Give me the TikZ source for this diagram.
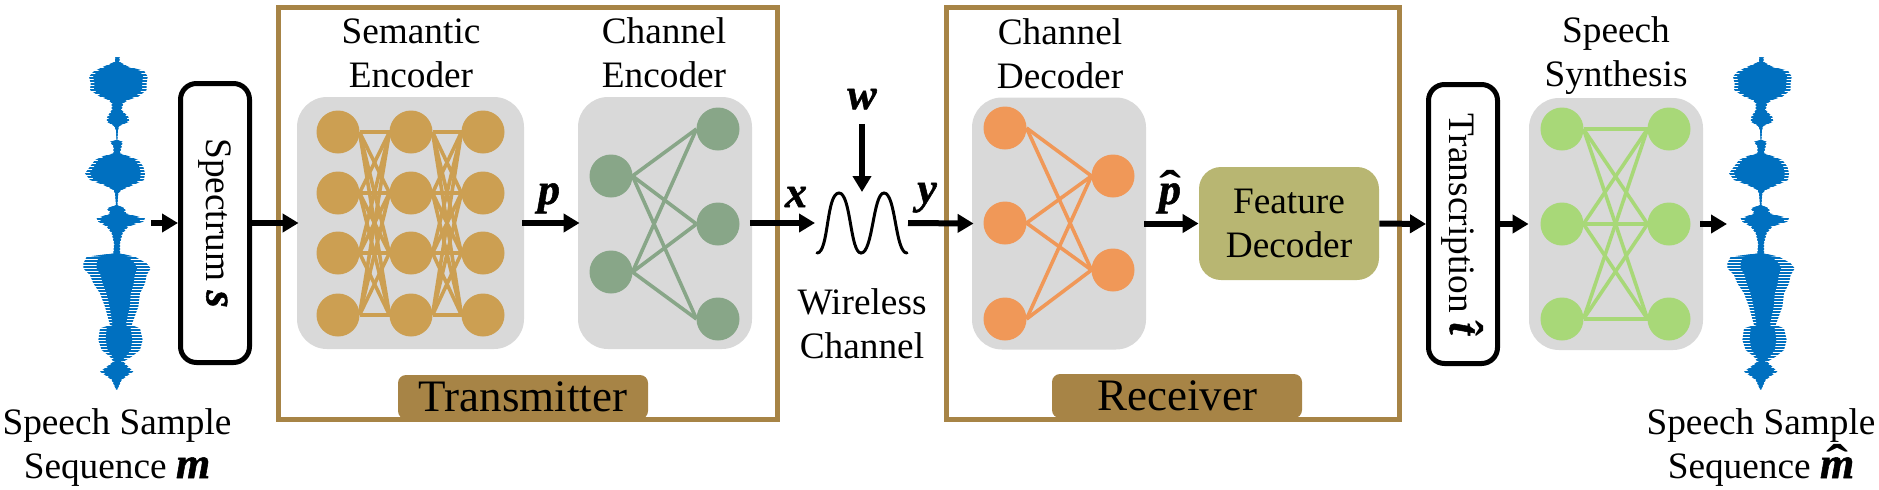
\documentclass[tikz,border=0pt]{standalone}
\usepackage{amsmath}
\usepackage{graphicx}
\usepackage{fontspec}
\setmainfont{Liberation Serif}
\newfontfamily\bifam[Scale=1.18,BoldItalicFeatures={FakeBold=1.2}]{Liberation Serif}
\usetikzlibrary{arrows.meta}
\definecolor{frame}{HTML}{A78446}
\definecolor{panel}{HTML}{D9D9D9}
\definecolor{semc}{HTML}{CC9F52}
\definecolor{chec}{HTML}{88A688}
\definecolor{chdc}{HTML}{F09858}
\definecolor{synth}{HTML}{A8D878}
\definecolor{featc}{HTML}{B8B672}
\definecolor{wave}{HTML}{0070C0}
\newcommand{\bisym}[1]{{\bifam\bfseries\itshape #1}}
\newsavebox{\hatbx}
\newcommand{\bihat}[2][1.5]{\sbox{\hatbx}{\bisym{#2}}\hbox{\rlap{\hbox to\wd\hatbx{\hss\scalebox{#1}[1.1]{{\bifam\bfseries\char"02C6}}\hss}}\usebox{\hatbx}}}
\newcommand{\wavepath}{(345,172)--(360,172)--(358,185)--(385,200)--(432,212)--(443,230)--(440,250)--(440,270)--(415,290)--(385,300)--(370,310)--(365,330)--(385,350)--(388,365)--(358,378)--(354,390)--(352,420)--(368,425)--(365,440)--(360,460)--(385,468)--(415,480)--(430,500)--(435,520)--(432,540)--(400,555)--(365,570)--(355,580)--(352,615)--(375,625)--(378,640)--(435,655)--(430,665)--(385,680)--(368,700)--(360,730)--(360,760)--(405,770)--(440,790)--(452,805)--(440,825)--(435,850)--(420,880)--(415,920)--(395,975)--(420,985)--(428,1020)--(420,1050)--(395,1070)--(370,1085)--(400,1115)--(385,1125)--(365,1140)--(352,1168)--(348,1168)--(335,1140)--(315,1125)--(300,1115)--(340,1085)--(330,1070)--(305,1050)--(295,1020)--(300,985)--(330,975)--(315,920)--(300,880)--(280,850)--(270,825)--(250,805)--(250,790)--(260,770)--(340,760)--(342,730)--(335,700)--(320,680)--(295,665)--(290,655)--(330,640)--(320,625)--(348,615)--(345,580)--(340,570)--(310,555)--(270,540)--(255,520)--(270,500)--(285,480)--(310,468)--(340,460)--(340,440)--(330,425)--(350,420)--(348,390)--(342,378)--(320,365)--(322,350)--(335,330)--(335,310)--(325,300)--(300,290)--(270,270)--(272,250)--(267,230)--(280,215)--(310,200)--(345,185)--cycle}
\newcommand{\waveform}[1]{%
  \begin{scope}[shift={(#1,0)},x=0.16667pt,y=-0.16667pt]
    \begin{scope}
      \clip \wavepath;
      \foreach \yy in {172,181,...,1172}
        \draw[wave,line width=1.1pt] (240,\yy)--(460,\yy);
    \end{scope}
    \begin{scope}[shift={(350,0)},xscale=.6,shift={(-350,0)}]
      \fill[wave] \wavepath;
    \end{scope}
    \begin{scope}
      \clip (240,172) rectangle (460,770) (240,1085) rectangle (460,1170);
      \begin{scope}[shift={(350,0)},xscale=.85,shift={(-350,0)}]
        \fill[wave] \wavepath;
      \end{scope}
    \end{scope}
  \end{scope}}
\tikzset{
  x=0.5pt,y=-0.5pt,
  lbl/.style={font=\fontsize{18.65}{22}\selectfont,align=center,inner sep=0pt,anchor=base},
  sym/.style={font=\fontsize{18.65}{22}\selectfont,inner sep=0pt,anchor=base},
  panelbox/.style={fill=panel,rounded corners=15pt,minimum width=#1,minimum height=126pt,inner sep=0pt},
  frm/.style={draw=frame,line width=2.5pt},
  tag/.style={fill=frame,rounded corners=4pt,minimum width=125pt,minimum height=22pt,inner sep=0pt,font=\fontsize{22.5}{26}\selectfont},
  blockbox/.style={draw=black,fill=white,line width=2.5pt,rounded corners=8pt,minimum width=34.5pt,minimum height=139.5pt,inner sep=0pt},
  neuron/.style={circle,fill=#1,minimum size=21.5pt,inner sep=0pt,outer sep=0pt},
  link/.style={line width=1.8pt,draw=#1},
  flow/.style={line width=3pt,-{Triangle[length=8pt,width=9pt]}},
}
\begin{document}
\begin{tikzpicture}
\useasboundingbox (0,0) rectangle (1879,489);
% frames
\coordinate (f1a) at (278,7.5); \coordinate (f1b) at (777.5,419.5);
\coordinate (f2a) at (946,7.5); \coordinate (f2b) at (1399.5,419.5);
\draw[frm] (f1a) rectangle (f1b);
\draw[frm] (f2a) rectangle (f2b);
\node[tag,anchor=center] (tx) at (523,397) {Transmitter};
\node[tag,anchor=center] (rx) at (1177,396) {Receiver};
% waveforms
\waveform{0}
\waveform{1644}
% panels
\node[panelbox=113.5pt] (sem) at (410.5,223) {};
\node[panelbox=87pt] (che) at (665,223) {};
\node[panelbox=87pt] (chd) at (1059,223.5) {};
\node[panelbox=87pt] (syn) at (1616,224) {};
\node[fill=featc,rounded corners=11pt,minimum width=90pt,minimum height=56.5pt,inner sep=0pt,align=center,font=\fontsize{18.65}{22}\selectfont] (feat) at (1289,223.5) {Feature\\Decoder};
% edges first, then neurons on top
\foreach \c/\x in {a/338,b/411,c/483}
  \foreach \r/\y in {1/132,2/193,3/253,4/315}
    \node[neuron=semc] (s\c\r) at (\x,\y) {};
\foreach \i in {1,2,3,4}
  \foreach \j in {1,2,3,4} {
    \draw[link=semc] (sa\i.east)--(sb\j.west);
    \draw[link=semc] (sb\i.east)--(sc\j.west);
  }
% channel encoder
\foreach \r/\y in {1/176,2/272} \node[neuron=chec] (ea\r) at (611,\y) {};
\foreach \r/\y in {1/129,2/224,3/319} \node[neuron=chec] (eb\r) at (718,\y) {};
\foreach \i in {1,2} \foreach \j in {1,2,3} \draw[link=chec] (ea\i.east)--(eb\j.west);
% channel decoder
\foreach \r/\y in {1/128,2/223,3/319} \node[neuron=chdc] (da\r) at (1005,\y) {};
\foreach \r/\y in {1/176,2/270} \node[neuron=chdc] (db\r) at (1113,\y) {};
\foreach \i in {1,2,3} \foreach \j in {1,2} \draw[link=chdc] (da\i.east)--(db\j.west);
% synthesis
\foreach \r/\y in {1/129,2/224,3/319} {
  \node[neuron=synth] (ya\r) at (1562,\y) {};
  \node[neuron=synth] (yb\r) at (1669,\y) {};
}
\foreach \i in {1,2,3} \foreach \j in {1,2,3} \draw[link=synth] (ya\i.east)--(yb\j.west);
% blocks
\node[blockbox] (spec) at (215,223) {};
\node[rotate=-90,inner sep=0pt,font=\fontsize{18.65}{22}\selectfont] (spect) at (215,223) {Spectrum \bisym{s}};
\node[blockbox] (trans) at (1463,224) {};
\node[rotate=-90,inner sep=0pt,font=\fontsize{18.65}{22}\selectfont] (transt) at (1463,224) {Transcription \bihat[1.1]{t}};
% channel
\coordinate (chin) at (815,223);
\coordinate (chout) at (908,223);
\coordinate (chtop) at (862,192);
\draw[line width=1.5pt,line cap=round] (817,253) .. controls (829,253) and (826,193) .. (839,193)
  .. controls (851,193) and (850,253) .. (861,253)
  .. controls (873,253) and (873,193) .. (884,193)
  .. controls (896,193) and (895,253) .. (907,253);
% labels
\node[lbl] (l1) at (117,478) {Speech Sample\\Sequence \bisym{m}};
\node[lbl] (l2) at (1761,478) {Speech Sample\\Sequence \bihat{m}};
\node[lbl] (l3) at (411,87) {Semantic\\Encoder};
\node[lbl] (l4) at (664,87) {Channel\\Encoder};
\node[lbl] (l5) at (1060,88) {Channel\\Decoder};
\node[lbl] (l6) at (1616,86) {Speech\\Synthesis};
\node[lbl] (l7) at (862,358) {Wireless\\Channel};
\node[sym] (p) at (549,204) {\bisym{p}};
\node[sym] (xx) at (796,207) {\bisym{x}};
\node[sym] (w) at (862,109) {\bisym{w}};
\node[sym] (yy) at (927,203) {\bisym{y}};
\node[sym] (ph) at (1170,204) {\bihat{p}};
% arrows
\coordinate (wavein) at (151,223);
\coordinate (waveout) at (1700,224);
\coordinate (waveend) at (1727,224);
\draw[flow] (wavein)--(spec.west);
\draw[flow,shorten >=-1pt] (spec.east)--(sem.west);
\draw[flow,shorten >=-1pt,shorten <=-1pt] (sem.east)--(che.west);
\draw[flow,shorten <=-1pt] (che.east)--(chin);
\draw[flow,shorten <=7pt] (w.south)--(chtop);
\draw[flow,shorten >=-1pt] (chout)--(chd.west);
\draw[flow,shorten <=-1pt] (chd.east)--(feat.west);
\draw[flow] (feat.east)--(trans.west);
\draw[flow] (trans.east)--(syn.west);
\draw[flow] (waveout)--(waveend);
\end{tikzpicture}
\end{document}
